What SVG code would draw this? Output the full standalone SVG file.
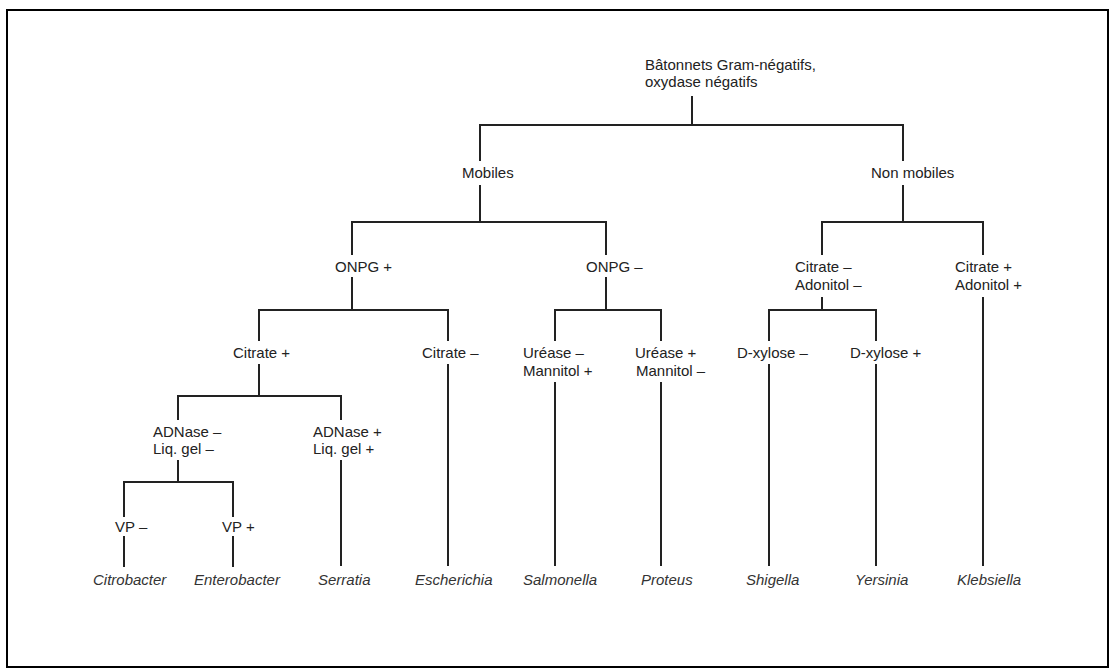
<svg xmlns="http://www.w3.org/2000/svg" width="1115" height="672" viewBox="0 0 1115 672">
<style>
.t{font-family:"Liberation Sans",Arial,sans-serif;font-size:15px;fill:#222}
.i{font-style:italic;fill:#333}
.c line{stroke:#222;stroke-width:2}
</style>
<rect x="0" y="0" width="1115" height="672" fill="#fff"/>
<rect x="7" y="10" width="1101" height="657" fill="none" stroke="#000" stroke-width="2"/>
<g class="c" id="connectors">
<line x1="692" y1="96" x2="692" y2="125"/>
<line x1="479" y1="125" x2="904" y2="125"/>
<line x1="480" y1="125" x2="480" y2="161"/><line x1="480" y1="185" x2="480" y2="222"/>
<line x1="903" y1="125" x2="903" y2="161"/><line x1="903" y1="185" x2="903" y2="222"/>
<line x1="351" y1="222" x2="607" y2="222"/>
<line x1="821" y1="222" x2="984" y2="222"/>
<line x1="352" y1="222" x2="352" y2="255"/><line x1="352" y1="277" x2="352" y2="310"/>
<line x1="606" y1="222" x2="606" y2="255"/><line x1="606" y1="277" x2="606" y2="310"/>
<line x1="822" y1="222" x2="822" y2="255"/><line x1="822" y1="297" x2="822" y2="310"/>
<line x1="983" y1="222" x2="983" y2="255"/><line x1="983" y1="297" x2="983" y2="566"/>
<line x1="258" y1="310" x2="449" y2="310"/>
<line x1="554" y1="310" x2="662" y2="310"/>
<line x1="768" y1="310" x2="877" y2="310"/>
<line x1="259" y1="310" x2="259" y2="341"/><line x1="259" y1="364" x2="259" y2="396"/>
<line x1="448" y1="310" x2="448" y2="341"/><line x1="448" y1="364" x2="448" y2="566"/>
<line x1="555" y1="310" x2="555" y2="341"/><line x1="555" y1="382" x2="555" y2="566"/>
<line x1="661" y1="310" x2="661" y2="341"/><line x1="661" y1="382" x2="661" y2="566"/>
<line x1="769" y1="310" x2="769" y2="341"/><line x1="769" y1="364" x2="769" y2="566"/>
<line x1="876" y1="310" x2="876" y2="341"/><line x1="876" y1="364" x2="876" y2="566"/>
<line x1="177" y1="396" x2="342" y2="396"/>
<line x1="178" y1="396" x2="178" y2="420"/><line x1="178" y1="460" x2="178" y2="482"/>
<line x1="341" y1="396" x2="341" y2="420"/><line x1="341" y1="460" x2="341" y2="566"/>
<line x1="123" y1="482" x2="234" y2="482"/>
<line x1="124" y1="482" x2="124" y2="517"/><line x1="124" y1="536" x2="124" y2="567"/>
<line x1="233" y1="482" x2="233" y2="517"/><line x1="233" y1="536" x2="233" y2="567"/>
</g>
<g id="root"><text class="t" x="645" y="70">Bâtonnets Gram-négatifs,</text><text class="t" x="645" y="87">oxydase négatifs</text></g>
<g id="mobiles"><text class="t" x="462" y="178">Mobiles</text></g>
<g id="nonmobiles"><text class="t" x="871" y="178">Non mobiles</text></g>
<g id="onpgplus"><text class="t" x="335" y="272">ONPG +</text></g>
<g id="onpgminus"><text class="t" x="586" y="272">ONPG –</text></g>
<g id="citadonminus"><text class="t" x="795" y="272">Citrate –</text><text class="t" x="795" y="290">Adonitol –</text></g>
<g id="citadonplus"><text class="t" x="955" y="272">Citrate +</text><text class="t" x="955" y="290">Adonitol +</text></g>
<g id="citrateplus"><text class="t" x="233" y="358">Citrate +</text></g>
<g id="citrateminus"><text class="t" x="422" y="358">Citrate –</text></g>
<g id="ureaseminus"><text class="t" x="523" y="358">Uréase –</text><text class="t" x="523" y="376">Mannitol +</text></g>
<g id="ureaseplus"><text class="t" x="635" y="358">Uréase +</text><text class="t" x="636" y="376">Mannitol –</text></g>
<g id="xyloseminus"><text class="t" x="737" y="358">D-xylose –</text></g>
<g id="xyloseplus"><text class="t" x="850" y="358">D-xylose +</text></g>
<g id="adnaseminus"><text class="t" x="153" y="437">ADNase –</text><text class="t" x="153" y="454">Liq. gel –</text></g>
<g id="adnaseplus"><text class="t" x="313" y="437">ADNase +</text><text class="t" x="313" y="454">Liq. gel +</text></g>
<g id="vpminus"><text class="t" x="115" y="532">VP –</text></g>
<g id="vpplus"><text class="t" x="222" y="532">VP +</text></g>
<g id="citrobacter"><text class="t i" x="93" y="585">Citrobacter</text></g>
<g id="enterobacter"><text class="t i" x="194" y="585">Enterobacter</text></g>
<g id="serratia"><text class="t i" x="318" y="585">Serratia</text></g>
<g id="escherichia"><text class="t i" x="415" y="585">Escherichia</text></g>
<g id="salmonella"><text class="t i" x="523" y="585">Salmonella</text></g>
<g id="proteus"><text class="t i" x="641" y="585">Proteus</text></g>
<g id="shigella"><text class="t i" x="746" y="585">Shigella</text></g>
<g id="yersinia"><text class="t i" x="855" y="585">Yersinia</text></g>
<g id="klebsiella"><text class="t i" x="957" y="585">Klebsiella</text></g>
</svg>
